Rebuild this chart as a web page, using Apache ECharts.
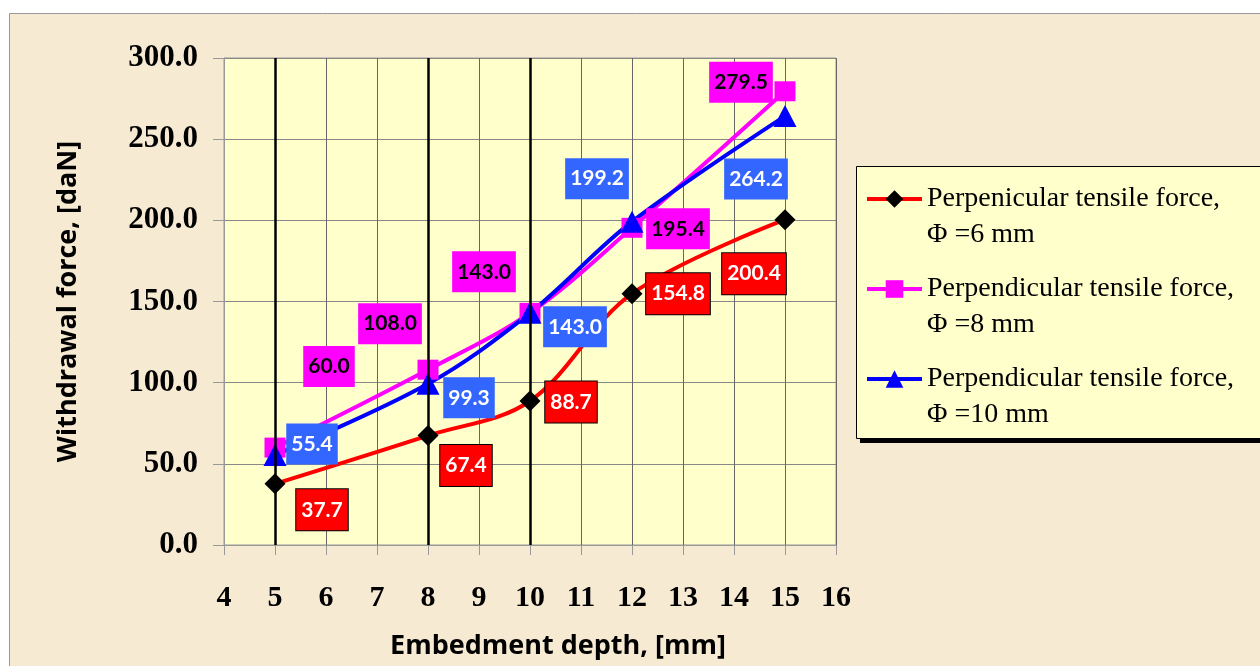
<!DOCTYPE html>
<html>
<head>
<meta charset="utf-8">
<script src="https://cdn.jsdelivr.net/npm/echarts@6/dist/echarts.min.js"></script>
<style>
html,body{margin:0;padding:0;background:#fff;}
#chart{width:1260px;height:666px;}
</style>
</head>
<body>
<div id="chart"></div>
<script>
const depths = [5, 8, 10, 12, 15];
const force6mm = [37.7, 67.4, 88.7, 154.8, 200.4];
const force8mm = [60.0, 108.0, 143.0, 195.4, 279.5];
const force10mm = [55.4, 99.3, 143.0, 199.2, 264.2];
const guideDepths = [5, 8, 10];
const seriesNames = [
  'Perpenicular tensile force,\n\u03A6 =6 mm',
  'Perpendicular tensile force,\n\u03A6 =8 mm',
  'Perpendicular tensile force,\n\u03A6 =10 mm'
];

// label placement offsets (style only)
const off6 = [[47,26],[38,30],[41,1],[46,0],[-31,54]];
const off8 = [[54,-81],[-38,-46],[-46,-41],[46,1],[-44,-9]];
const off10 = [[37,-11],[41,14],[45,14],[-35,-43],[-29,63]];

function mk(vals, offs) {
  return depths.map((d, i) => ({ value: [d, vals[i]], label: { offset: offs[i] } }));
}
const labelBase = {
  show: true, position: 'inside', fontFamily: 'Lato', fontWeight: 'bold', fontSize: 21,
  padding: [11, 5, 9, 5], formatter: p => p.value[1].toFixed(1)
};

const chart = echarts.init(document.getElementById('chart'), null, { renderer: 'canvas' });
chart.setOption({
  animation: false,
  backgroundColor: '#ffffff',
  graphic: [
    { type: 'rect', z: -10, shape: { x: 9.5, y: 13.5, width: 1300, height: 700 },
      style: { fill: '#F7EAD3', stroke: '#999', lineWidth: 1 } },
    { type: 'rect', z: -6, shape: { x: 860, y: 170, width: 440, height: 273 },
      style: { fill: '#000' } },
    { type: 'rect', z: -5, shape: { x: 856.5, y: 166.5, width: 440, height: 272 },
      style: { fill: '#FFFFCC', stroke: '#000', lineWidth: 1 } }
  ],
  grid: { left: 224, right: 424, top: 58, bottom: 121, show: true, backgroundColor: '#FFFFCC', borderColor: '#999', borderWidth: 1 },
  legend: {
    data: seriesNames, orient: 'vertical', left: 865, top: 145, padding: 0,
    itemWidth: 55, itemHeight: 22, itemGap: -18,
    lineStyle: { width: 4 },
    formatter: n => '\n' + n,
    textStyle: { fontFamily: 'Liberation Serif', fontSize: 28, lineHeight: 36, color: '#000' }
  },
  xAxis: {
    type: 'value', min: 4, max: 16, interval: 1,
    name: 'Embedment depth, [mm]', nameLocation: 'middle', nameGap: 88,
    nameTextStyle: { fontFamily: 'Open Sans', fontWeight: 'bold', fontSize: 27, color: '#000', padding: [0, 0, 0, 56] },
    axisLine: { show: true, lineStyle: { color: '#999', width: 1 } },
    axisTick: { show: true, length: 10, lineStyle: { color: '#999' } },
    axisLabel: { margin: 38, fontFamily: 'Liberation Serif', fontWeight: 'bold', fontSize: 30, color: '#000' },
    splitLine: { show: true, lineStyle: { color: '#666', width: 1 } }
  },
  yAxis: {
    type: 'value', min: 0, max: 300, interval: 50,
    name: 'Withdrawal force, [daN]', nameLocation: 'middle', nameGap: 142, nameRotate: 90,
    nameTextStyle: { fontFamily: 'Open Sans', fontWeight: 'bold', fontSize: 27, color: '#000' },
    axisLine: { show: true, lineStyle: { color: '#999', width: 1 } },
    axisTick: { show: true, length: 11, lineStyle: { color: '#999' } },
    axisLabel: { margin: 26, fontFamily: 'Liberation Serif', fontWeight: 'bold', fontSize: 31, color: '#000',
      formatter: v => v.toFixed(1) },
    splitLine: { show: true, lineStyle: { color: '#888', width: 1 } }
  },
  series: [
    { type: 'line', name: 'guides', data: [], silent: true,
      markLine: { silent: true, symbol: 'none', label: { show: false },
        lineStyle: { color: '#000', width: 2.5, type: 'solid' },
        data: guideDepths.map(d => ({ xAxis: d })) } },
    { type: 'line', name: seriesNames[0], data: mk(force6mm, off6), smooth: 0.35,
      symbol: 'diamond', symbolSize: [21, 21],
      lineStyle: { color: '#FF0000', width: 4 }, itemStyle: { color: '#000' },
      label: Object.assign({}, labelBase, { color: '#fff', backgroundColor: '#FF0000', borderColor: '#000', borderWidth: 1 }) },
    { type: 'line', name: seriesNames[1], data: mk(force8mm, off8), smooth: 0.35,
      symbol: 'rect', symbolSize: [21, 20],
      lineStyle: { color: '#FF00FF', width: 4 }, itemStyle: { color: '#FF00FF' },
      label: Object.assign({}, labelBase, { color: '#000', backgroundColor: '#FF00FF' }) },
    { type: 'line', name: seriesNames[2], data: mk(force10mm, off10), smooth: 0.35,
      symbol: 'triangle', symbolSize: [23, 22],
      lineStyle: { color: '#0000FF', width: 4 }, itemStyle: { color: '#0000FF' },
      label: Object.assign({}, labelBase, { color: '#fff', backgroundColor: '#3366FF' }) }
  ]
});
</script>
</body>
</html>
